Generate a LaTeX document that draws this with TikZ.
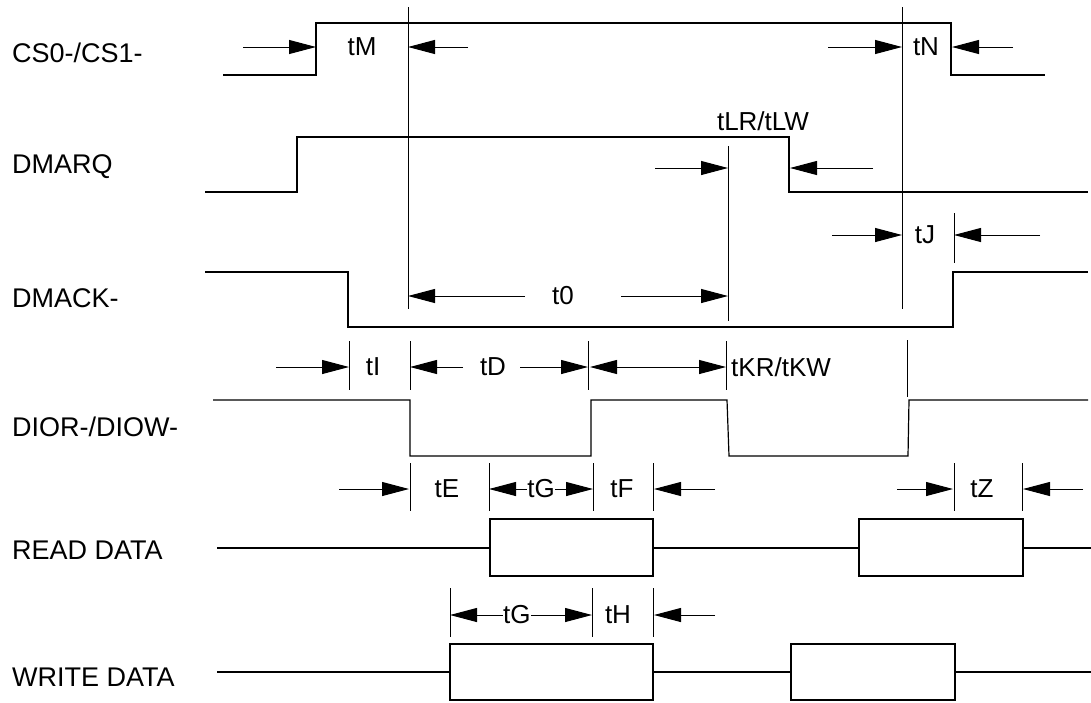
\documentclass[tikz,border=0pt]{standalone}
\usepackage{fontspec}
\setmainfont{Liberation Sans}
\usetikzlibrary{arrows.meta}
\tikzset{
	signame/.style={anchor=west, inner sep=0pt, font=\fontsize{27}{30}\selectfont},
	tlabel/.style={inner sep=1pt, font=\fontsize{26}{30}\selectfont},
	% label sitting on a double arrow
	tgap/.style={tlabel, fill=white, inner sep=0.5pt},
	wave/.style={line width=1.2pt},
	tick/.style={line width=1pt},
}
\begin{document}
\begin{tikzpicture}[x=1pt, y=-1pt]
	\useasboundingbox (0,0) rectangle (1091,702);
	
	% signal names
	\node (cs) [signame] at (12,53) {CS0-/CS1-};
	\node (dmarq) [signame] at (12,167) {DMARQ};
	\node (dmack) [signame] at (12,298) {DMACK-};
	\node (dior) [signame] at (12,427) {DIOR-/DIOW-};
	\node (rd) [signame] at (12,550) {READ DATA};
	\node (wd) [signame] at (12,677) {WRITE DATA};
	
	% waveforms
	\draw[wave] (223,75) -- (316,75) -- (316,23) -- (951,23) -- (951,75) -- (1045,75);
	\draw[wave] (205,192) -- (297,192) -- (297,137) -- (789,137) -- (789,192) -- (1088,192);
	\draw[wave] (205,272) -- (348,272) -- (348,327) -- (953,327) -- (953,272) -- (1088,272);
	\draw[wave] (213,400) -- (410,400) -- (410,456) -- (591,456) -- (591,400) -- (727,400)
		-- (729,456) -- (908,456) -- (909,400) -- (1088,400);
	\draw[wave] (217,548) -- (490,548) (653,548) -- (859,548) (1023,548) -- (1091,548);
	\draw[wave] (490,519) rectangle (653,576);
	\draw[wave] (859,519) rectangle (1023,576);
	\draw[wave] (217,672) -- (450,672) (653,672) -- (791,672) (955,672) -- (1091,672);
	\draw[wave] (450,644) rectangle (653,700);
	\draw[wave] (791,644) rectangle (955,700);
	
	% reference lines
	\coordinate (v1t) at (408,7);   \coordinate (v1b) at (408,309);
	\coordinate (v2t) at (902,7);   \coordinate (v2b) at (902,309);
	\coordinate (v3t) at (728,146); \coordinate (v3b) at (728,321);
	\coordinate (jt) at (954,213);  \coordinate (jb) at (954,263);
	\draw[tick] (v1t) -- (v1b);
	\draw[tick] (v2t) -- (v2b);
	\draw[tick] (v3t) -- (v3b);
	\draw[tick] (jt) -- (jb);
	\foreach \x in {349,410,588,726}
		\draw[tick] (\x,341) -- (\x,390);
	\draw[tick] (907,340) -- (907,397);
	\foreach \x in {410,489,593,653,954,1022}
		\draw[tick] (\x,463) -- (\x,511);
	\foreach \x in {450,592,653}
		\draw[tick] (\x,588) -- (\x,637);
	
	% timing labels
	\node (tM) [tlabel] at (362,47) {tM};
	\node (tN) [tlabel] at (926,47) {tN};
	\node (tL) [tlabel] at (763,121) {tLR/tLW};
	\node (tJ) [tlabel] at (925,235) {tJ};
	\node (t0) [tlabel] at (563,296) {t0};
	\node (tI) [tlabel] at (373,367) {tI};
	\node (tD) [tlabel] at (493,367) {tD};
	\node (tK) [tlabel, anchor=west] at (730,367) {tKR/tKW};
	\node (tE) [tlabel] at (447,489) {tE};
	\node (tF) [tlabel] at (622,489) {tF};
	\node (tZ) [tlabel] at (982,489) {tZ};
	\node (tH) [tlabel] at (618,615) {tH};
	
	\begin{scope}[line width=1pt, >={Triangle[length=27pt, width=14pt]}]
		\draw[->] (243,47) -- (316,47);
		\draw[->] (468,47) -- (v1t |- 0,47);
		\draw[->] (828,47) -- (v2t |- 0,47);
		\draw[->] (1013,47) -- (952,47);
		\draw[->] (655,168) -- (v3t |- 0,168);
		\draw[->] (873,168) -- (790,168);
		\draw[->] (832,235) -- (v2t |- 0,235);
		\draw[->] (1040,235) -- (jt |- 0,235);
		\draw[->] (525,296) -- (v1t |- 0,296);
		\draw[->] (621,296) -- (v3t |- 0,296);
		\draw[->] (276,367) -- (349,367);
		\draw[->] (463,367) -- (410,367);
		\draw[->] (520,367) -- (588,367);
		\draw[<->] (590,367) -- (726,367);
		\draw[->] (339,489) -- (409,489);
		\draw[<->] (489,489) -- (593,489) node (tG1) [tgap, midway] {tG};
		\draw[->] (715,489) -- (654,489);
		\draw[->] (897,489) -- (953,489);
		\draw[->] (1083,489) -- (1023,489);
		\draw[<->] (450,615) -- (592,615) node (tG2) [tgap, pos=0.47] {tG};
		\draw[->] (715,615) -- (654,615);
	\end{scope}
\end{tikzpicture}
\end{document}
